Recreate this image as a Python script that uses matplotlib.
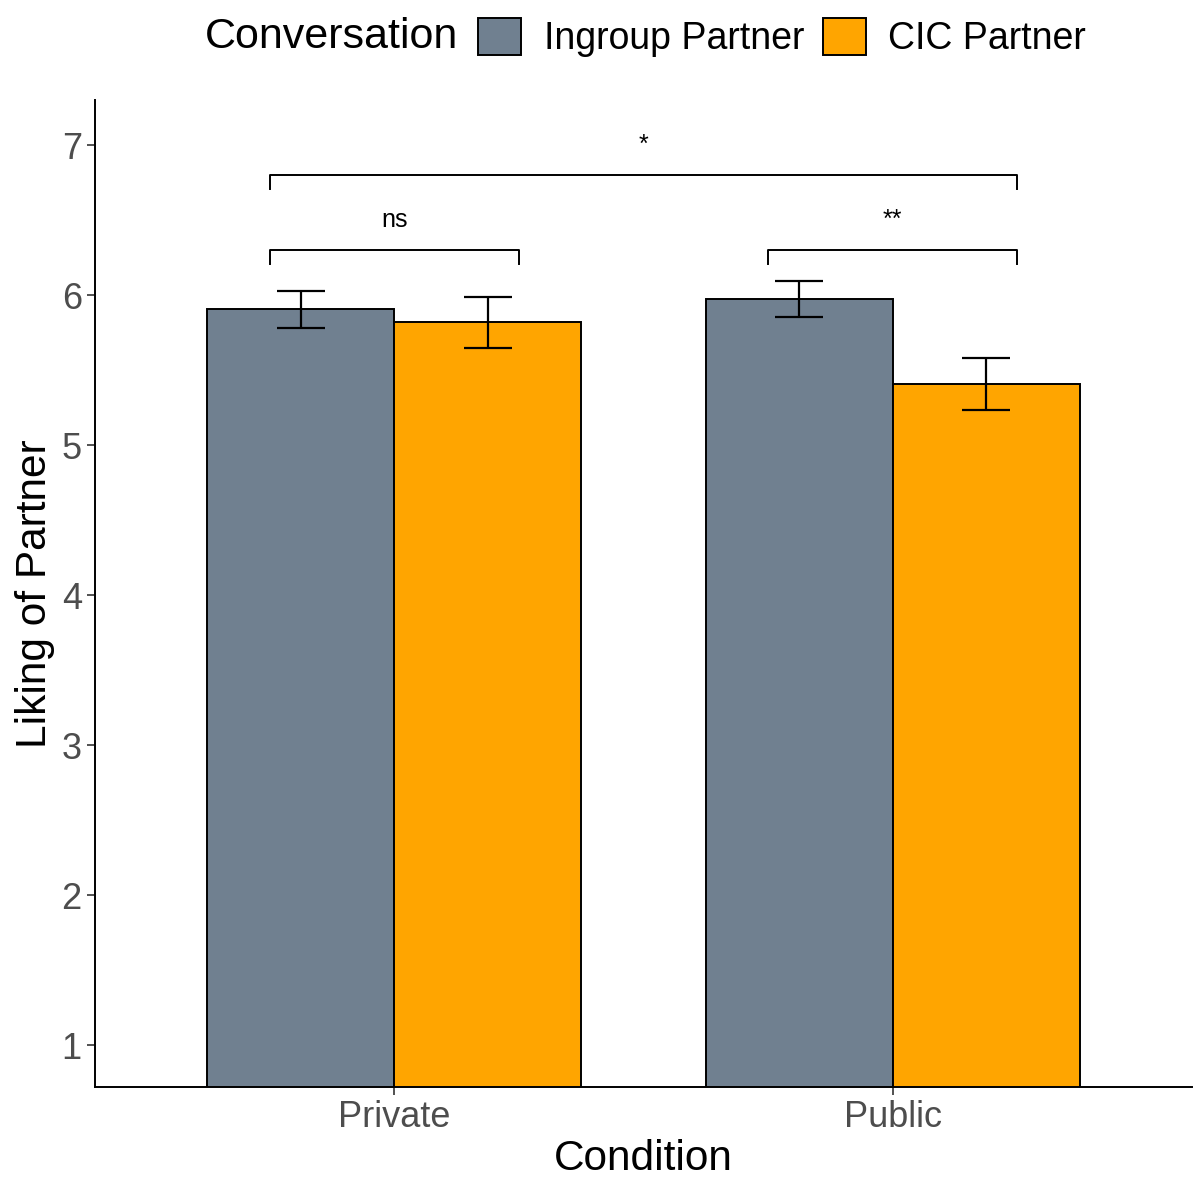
import numpy as np
import matplotlib.pyplot as plt
from matplotlib.patches import Patch

plt.rcParams['font.family'] = ['Liberation Sans', 'DejaVu Sans']

# Data
conditions = ['Private', 'Public']
groups = ['Ingroup Partner', 'CIC Partner']
colors = ['#708090', '#FFA500']
means = {
    'Ingroup Partner': [5.905, 5.975],
    'CIC Partner': [5.82, 5.41],
}
errors = {
    'Ingroup Partner': [0.122, 0.12],
    'CIC Partner': [0.169, 0.173],
}
# significance brackets: (x start, x end, y level, label)
brackets = [
    (0.75, 1.25, 6.3, 'ns'),
    (1.75, 2.25, 6.3, '**'),
    (0.75, 2.25, 6.8, '*'),
]

fig = plt.figure(figsize=(11.98, 11.79), dpi=100)
ax = fig.add_axes([0.0793, 0.078, 0.9157, 0.837])

x = np.arange(1, len(conditions) + 1)
width = 0.375
for i, g in enumerate(groups):
    pos = x + (i - 0.5) * width
    ax.bar(pos, means[g], width=width, color=colors[i], edgecolor='black',
           linewidth=1.4, zorder=2)
    ax.errorbar(pos, means[g], yerr=errors[g], fmt='none', ecolor='black',
                elinewidth=1.6, capsize=17.5, capthick=1.6, zorder=3)

tip = 0.09
for x0, x1, y, lab in brackets:
    ax.plot([x0, x0, x1, x1], [y - tip, y, y, y - tip], color='black', lw=1.4)
    ax.text((x0 + x1) / 2, y + 0.12, lab, ha='center', va='bottom', fontsize=18)

ax.set_xlim(0.4, 2.6)
ax.set_ylim(0.72, 7.3)
ax.set_xticks(x)
ax.set_xticklabels(conditions)
ax.set_yticks([1, 2, 3, 4, 5, 6, 7])
ax.tick_params(axis='both', labelsize=26, labelcolor='#4D4D4D', length=6,
               width=1.2, color='#333333')
for s in ['top', 'right']:
    ax.spines[s].set_visible(False)
for s in ['left', 'bottom']:
    ax.spines[s].set_linewidth(1.4)

ax.set_xlabel('Condition', fontsize=30.5, labelpad=3)
ax.set_ylabel('Liking of Partner', fontsize=30.5, labelpad=5)

# legend on top, title to the left
handles = [Patch(facecolor=c, edgecolor='black', linewidth=1.4) for c in colors]
fig.text(0.171, 0.969, 'Conversation', fontsize=31, ha='left', va='center')
fig.legend(handles, groups, loc='center left', bbox_to_anchor=(0.399, 0.968),
           ncol=2, frameon=False, fontsize=27, handlelength=1.15,
           handleheight=1.15, handletextpad=0.6, columnspacing=0.5,
           borderpad=0, borderaxespad=0)

fig.savefig('out.png', dpi=100)
